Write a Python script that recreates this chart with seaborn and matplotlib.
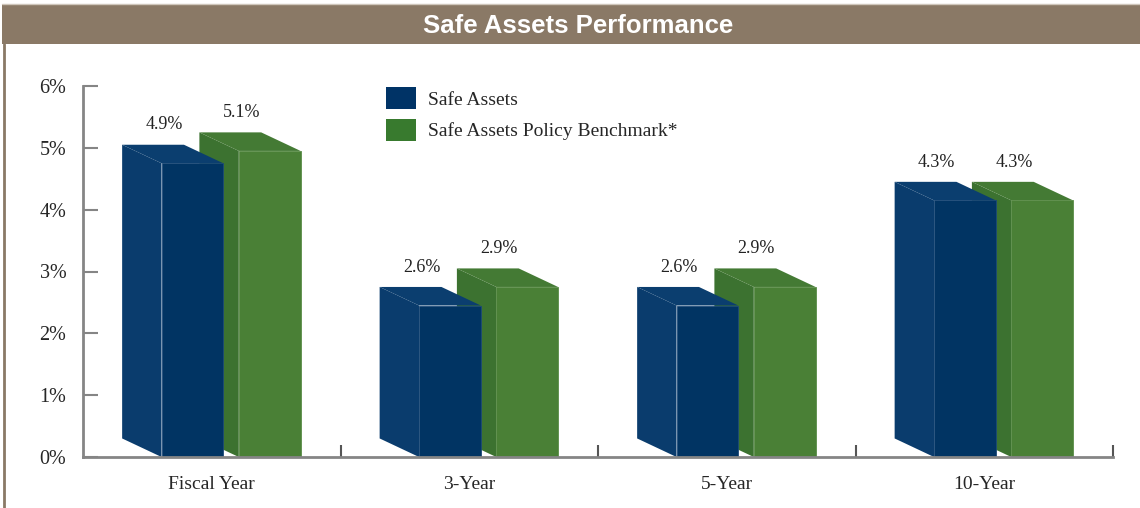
import matplotlib
matplotlib.use("Agg")
import matplotlib.pyplot as plt
from matplotlib.patches import Polygon, Rectangle, Patch
from matplotlib.lines import Line2D
from matplotlib.ticker import FixedLocator
import seaborn as sns
import pandas as pd

# data
periods = ["Fiscal Year", "3-Year", "5-Year", "10-Year"]
safe_assets = [4.9, 2.6, 2.6, 4.3]
benchmark = [5.1, 2.9, 2.9, 4.3]
series_names = ["Safe Assets", "Safe Assets Policy Benchmark*"]
y_ticks = [0, 1, 2, 3, 4, 5, 6]

df = pd.DataFrame({
    "period": periods * 2,
    "value": safe_assets + benchmark,
    "series": [series_names[0]] * 4 + [series_names[1]] * 4,
})

front = {series_names[0]: "#013463", series_names[1]: "#4a8036"}
side = {series_names[0]: "#0a3c6d", series_names[1]: "#3c7230"}
top = {series_names[0]: "#0b3e6f", series_names[1]: "#447a34"}
edge = {series_names[0]: "#1d4a78", series_names[1]: "#5a8d48"}
legend_col = {series_names[0]: "#003366", series_names[1]: "#387a2e"}

sns.set_style("white")
plt.rcParams["font.family"] = ["Liberation Serif", "DejaVu Serif"]

fig = plt.figure(figsize=(11.4, 5.08), dpi=100)
ax = fig.add_axes([83 / 1140, 51 / 508, 1030 / 1140, 371 / 508])

sns.barplot(data=df, x="period", y="value", hue="series", palette=front,
            width=0.48, saturation=1, dodge=True, legend=False, ax=ax)

ax.set_xlim(-0.5, 3.5)
ax.set_ylim(0, 6)

# fake 3D: shift fronts, add side and top faces
dx, dy, half = -0.153, 0.3, 0.15
shift = {series_names[0]: 0.045, series_names[1]: 0.105}
zo = {series_names[0]: 4, series_names[1]: 2}
for cont, name in zip(ax.containers, series_names):
    for rect in cont:
        v = rect.get_height()
        rect.set_x(rect.get_x() + shift[name])
        rect.set_height(v - half)
        rect.set_edgecolor(edge[name])
        rect.set_linewidth(0.6)
        rect.set_zorder(zo[name] + 0.5)
        x0, w, h = rect.get_x(), rect.get_width(), v - half
        ax.add_patch(Polygon([(x0, 0), (x0, h), (x0 + dx, h + dy), (x0 + dx, dy)],
                             closed=True, facecolor=side[name], edgecolor="none",
                             zorder=zo[name]))
        ax.add_patch(Polygon([(x0, h), (x0 + w, h), (x0 + w + dx, h + dy), (x0 + dx, h + dy)],
                             closed=True, facecolor=top[name], edgecolor="none",
                             zorder=zo[name]))
        ax.text(x0 + w / 2 + dx * 0.72, v + 0.47, f"{v:.1f}%", ha="center", va="center",
                fontsize=13, color="#222222", zorder=6)

# axes styling
for s in ["top", "right"]:
    ax.spines[s].set_visible(False)
for s in ["left", "bottom"]:
    ax.spines[s].set_color("#858585")
    ax.spines[s].set_linewidth(2)
    ax.spines[s].set_zorder(7)

ax.yaxis.set_major_locator(FixedLocator(y_ticks))
ax.set_yticklabels([f"{t}%" for t in y_ticks])
ax.tick_params(axis="y", direction="in", length=11, width=1.5, color="#858585",
               labelsize=14.5, pad=12, left=True)
ax.xaxis.set_minor_locator(FixedLocator([0.5, 1.5, 2.5, 3.5]))
ax.tick_params(axis="x", which="major", length=0, labelsize=14, pad=14)
ax.tick_params(axis="x", which="minor", direction="in", length=9, width=1.5,
               color="#555555", bottom=True)
ax.set_xlabel("")
ax.set_ylabel("")

handles = [Patch(facecolor=legend_col[n], edgecolor="none", label=n) for n in series_names]
fig.legend(handles=handles, loc="upper left", bbox_to_anchor=(368 / 1140, 1 - 70 / 508),
           frameon=False, fontsize=14, handlelength=1.55, handleheight=1.35,
           handletextpad=0.65, labelspacing=0.5)

# title banner and frame
fig.patches.append(Rectangle((2 / 1140, 1 - 44 / 508), 1, 40 / 508, transform=fig.transFigure,
                             facecolor="#8a7966", edgecolor="none"))
fig.lines.append(Line2D([2 / 1140, 1], [1 - 3.5 / 508] * 2, transform=fig.transFigure,
                        color="#cfc6bb", linewidth=1))
fig.lines.append(Line2D([4 / 1140] * 2, [0, 1 - 44 / 508], transform=fig.transFigure,
                        color="#8a7966", linewidth=2))
fig.text(578 / 1140, 1 - 26 / 508, "Safe Assets Performance", ha="center", va="center",
         color="white", fontsize=18.5, fontweight="bold", family=["Liberation Sans", "DejaVu Sans"])

fig.savefig("out.png", dpi=100)
